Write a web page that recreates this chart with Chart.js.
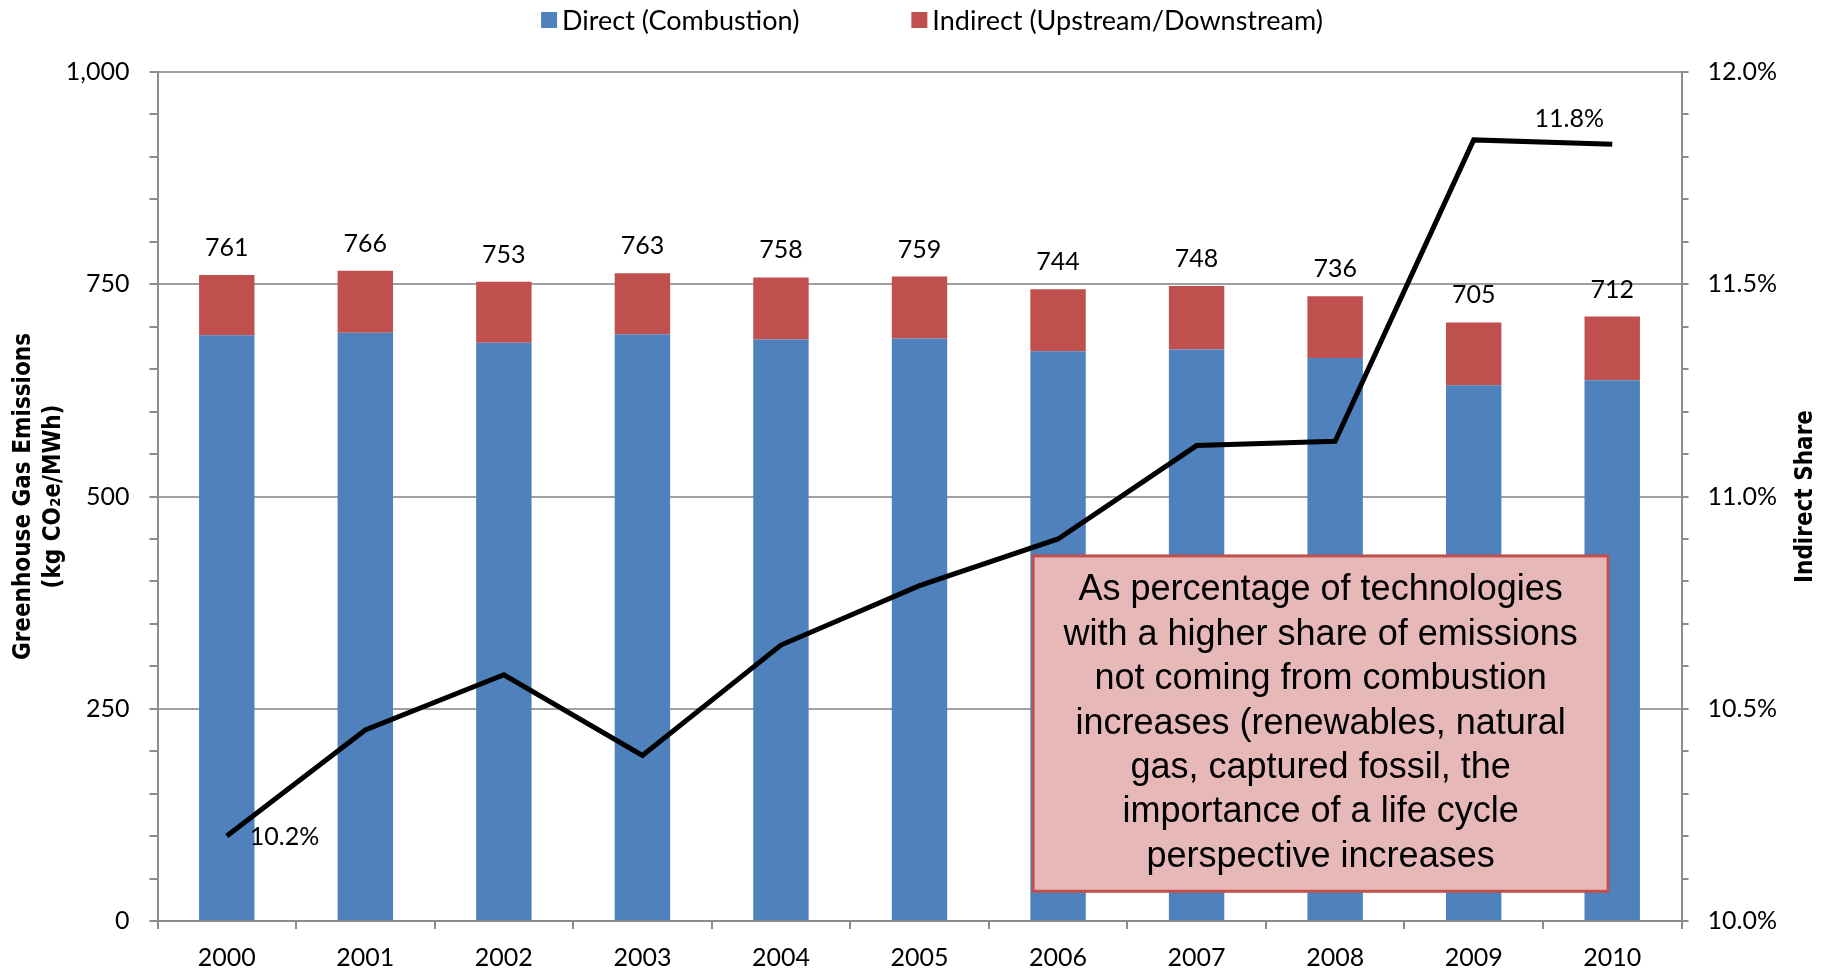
<!DOCTYPE html>
<html>
<head>
<meta charset="utf-8">
<title>Greenhouse Gas Emissions – Direct vs Indirect</title>
<script src="https://cdn.jsdelivr.net/npm/chart.js@4.4.1/dist/chart.umd.min.js"></script>
<style>
  html, body { margin: 0; padding: 0; background: #ffffff; }
  #wrap { width: 1831px; height: 973px; position: relative; }
</style>
</head>
<body>
<div id="wrap"><canvas id="chart" width="1831" height="973"></canvas></div>
<script>
// ---- data ----
const years = ['2000', '2001', '2002', '2003', '2004', '2005', '2006', '2007', '2008', '2009', '2010'];
const directEmissions   = [690, 693, 681, 691, 685, 686, 671, 673, 663, 631, 637];
const indirectEmissions = [71, 73, 72, 72, 73, 73, 73, 75, 73, 74, 75];
const indirectSharePct  = [10.20, 10.45, 10.58, 10.39, 10.65, 10.79, 10.90, 11.12, 11.13, 11.84, 11.83];
const emissionTicks = [0, 250, 500, 750, 1000];
const shareTicks = [10.0, 10.5, 11.0, 11.5, 12.0];
const legendLabels = ['Direct (Combustion)', 'Indirect (Upstream/Downstream)'];
const noteLines = [
  'As percentage of technologies',
  'with a higher share of emissions',
  'not coming from combustion',
  'increases (renewables, natural',
  'gas, captured fossil, the',
  'importance of a life cycle',
  'perspective increases'
];

// ---- styling ----
const FONT = "Lato, 'DejaVu Sans', sans-serif";
const TITLE_FONT = "'Liberation Sans Narrow', 'Arial Narrow', 'DejaVu Sans Condensed', sans-serif";
const NOTE_FONT = "'Liberation Sans', Arial, sans-serif";
const BLUE = '#4F81BD';
const RED = '#C0504D';
const AXIS = '#8C8C8C';
const GRID = '#A0A0A0';
const TRANSPARENT = 'rgba(0,0,0,0)';

const isMajor = (v, list) => list.some(t => Math.abs(t - v) < 1e-6);

// legend row across the top
const legendRow = {
  id: 'legendRow',
  afterDraw(chart) {
    const ctx = chart.ctx;
    const box = 16, gap = 5, spacing = 112, cy = 20, centre = 932;
    ctx.save();
    ctx.font = `27px ${FONT}`;
    ctx.textBaseline = 'middle';
    ctx.textAlign = 'left';
    const widths = legendLabels.map(t => ctx.measureText(t).width);
    const total = widths.reduce((a, w) => a + box + gap + w, 0) + spacing;
    let x = centre - total / 2;
    const colors = [BLUE, RED];
    legendLabels.forEach((t, i) => {
      ctx.fillStyle = colors[i];
      ctx.fillRect(x, cy - box / 2, box, box);
      ctx.fillStyle = '#000';
      ctx.fillText(t, x + box + gap, cy + 1);
      x += box + gap + widths[i] + spacing;
    });
    ctx.restore();
  }
};

// stacked totals above each bar and the end labels of the share line
const valueLabels = {
  id: 'valueLabels',
  afterDatasetsDraw(chart) {
    const ctx = chart.ctx;
    ctx.save();
    ctx.fillStyle = '#000';
    ctx.font = `25px ${FONT}`;
    ctx.textAlign = 'center';
    ctx.textBaseline = 'alphabetic';
    const top = chart.getDatasetMeta(1).data;
    top.forEach((el, i) => {
      const total = directEmissions[i] + indirectEmissions[i];
      ctx.fillText(String(total), el.x, el.y - 19);
    });
    const pts = chart.getDatasetMeta(2).data;
    const first = pts[0], last = pts[pts.length - 1];
    ctx.textBaseline = 'middle';
    ctx.textAlign = 'left';
    ctx.fillText(indirectSharePct[0].toFixed(1) + '%', first.x + 23, first.y + 1);
    ctx.textAlign = 'center';
    ctx.fillText(indirectSharePct[indirectSharePct.length - 1].toFixed(1) + '%', last.x - 43, last.y - 25);
    ctx.restore();
  }
};

// callout box laid over the later years
const noteBox = {
  id: 'noteBox',
  afterDatasetsDraw(chart) {
    const { ctx, scales: { x, y } } = chart;
    const left = x.getPixelForValue(5.82), right = x.getPixelForValue(9.97);
    const top = y.getPixelForValue(430), bottom = y.getPixelForValue(35);
    ctx.save();
    ctx.fillStyle = '#E6B8B7';
    ctx.fillRect(left, top, right - left, bottom - top);
    ctx.strokeStyle = RED;
    ctx.lineWidth = 3;
    ctx.strokeRect(left, top, right - left, bottom - top);
    ctx.fillStyle = '#000';
    ctx.font = `36px ${NOTE_FONT}`;
    ctx.textAlign = 'center';
    ctx.textBaseline = 'middle';
    const cx = (left + right) / 2;
    const lineH = 44.4;
    const startY = (top + bottom) / 2 - lineH * (noteLines.length - 1) / 2;
    noteLines.forEach((t, i) => ctx.fillText(t, cx, startY + i * lineH));
    ctx.restore();
  }
};

// right-hand axis title reading upwards
const rightTitle = {
  id: 'rightTitle',
  afterDraw(chart) {
    const { ctx, chartArea } = chart;
    ctx.save();
    ctx.translate(1806, (chartArea.top + chartArea.bottom) / 2);
    ctx.rotate(-Math.PI / 2);
    ctx.fillStyle = '#000';
    ctx.font = `bold 24px ${TITLE_FONT}`;
    ctx.textAlign = 'center';
    ctx.textBaseline = 'middle';
    ctx.fillText('Indirect Share', 0, 0);
    ctx.restore();
  }
};

new Chart(document.getElementById('chart'), {
  type: 'bar',
  data: {
    labels: years,
    datasets: [
      { label: legendLabels[0], data: directEmissions, backgroundColor: BLUE, yAxisID: 'y', order: 2,
        barPercentage: 0.5, categoryPercentage: 0.8 },
      { label: legendLabels[1], data: indirectEmissions, backgroundColor: RED, yAxisID: 'y', order: 2,
        barPercentage: 0.5, categoryPercentage: 0.8 },
      { type: 'line', label: 'Indirect Share', data: indirectSharePct, yAxisID: 'y1', order: 0,
        borderColor: '#000', borderWidth: 5, pointRadius: 0, pointHoverRadius: 0, tension: 0, fill: false }
    ]
  },
  options: {
    responsive: false,
    animation: false,
    devicePixelRatio: 1,
    layout: { padding: { top: 72, left: 0, right: 0, bottom: 0 } },
    plugins: { legend: { display: false }, tooltip: { enabled: false } },
    scales: {
      x: {
        stacked: true,
        offset: true,
        grid: { display: true, offset: true, drawOnChartArea: false, drawTicks: true,
                tickLength: 8, tickColor: AXIS, tickWidth: 2, lineWidth: 2, color: AXIS },
        border: { display: true, color: AXIS, width: 2 },
        ticks: { color: '#000', font: { family: FONT, size: 25 }, padding: 14, maxRotation: 0, autoSkip: false },
        afterFit(s) { s.height = 52; }
      },
      y: {
        stacked: true,
        position: 'left',
        min: 0,
        max: 1000,
        ticks: {
          stepSize: 50, autoSkip: false, padding: 20, color: '#000',
          font: { family: FONT, size: 25 },
          callback: v => isMajor(v, emissionTicks) ? Number(v).toLocaleString('en-US') : ''
        },
        grid: {
          color: c => (c.tick && isMajor(c.tick.value, emissionTicks)) ? GRID : TRANSPARENT,
          tickColor: AXIS, tickLength: 8, lineWidth: 2, tickWidth: 2
        },
        border: { display: true, color: AXIS, width: 2 },
        title: {
          display: true,
          text: ['Greenhouse Gas Emissions', '(kg CO\u2082e/MWh)'],
          color: '#000',
          font: { family: TITLE_FONT, size: 24, weight: 'bold', lineHeight: 1.25 },
          padding: { top: 9, bottom: 0 }
        },
        afterFit(s) { s.width = 157.5; }
      },
      y1: {
        position: 'right',
        min: 10,
        max: 12,
        ticks: {
          stepSize: 0.1, autoSkip: false, padding: 19, color: '#000',
          font: { family: FONT, size: 25 },
          callback: v => isMajor(v, shareTicks) ? Number(v).toFixed(1) + '%' : ''
        },
        grid: { drawOnChartArea: false, tickColor: AXIS, tickLength: 7, tickWidth: 2, lineWidth: 2 },
        border: { display: true, color: AXIS, width: 2 },
        afterFit(s) { s.width = 1831 - 1681.5; }
      }
    }
  },
  plugins: [valueLabels, noteBox, legendRow, rightTitle]
});
</script>
</body>
</html>
